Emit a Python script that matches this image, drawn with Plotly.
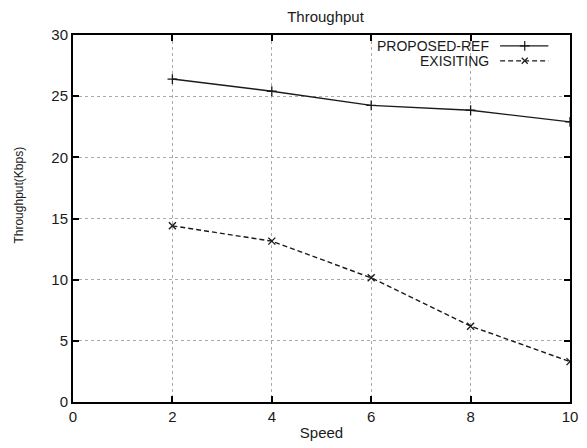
import plotly.graph_objects as go

speed = [2, 4, 6, 8, 10]
proposed_ref = [26.4, 25.4, 24.25, 23.85, 22.9]
existing = [14.4, 13.15, 10.15, 6.2, 3.3]
x_ticks = [0, 2, 4, 6, 8, 10]
y_ticks = [0, 5, 10, 15, 20, 25, 30]

FONT = "Liberation Sans, Arial, sans-serif"
W, H = 587, 448
L, R, T, B = 73, 9, 35, 43
INK = "#1a1a1a"

fig = go.Figure()
fig.add_trace(go.Scatter(
    x=speed, y=proposed_ref, mode="lines+markers", name="PROPOSED-REF",
    line=dict(color=INK, width=1.4),
    marker=dict(symbol="cross-thin", size=7, line=dict(color=INK, width=1.3)),
    showlegend=False))
fig.add_trace(go.Scatter(
    x=speed, y=existing, mode="lines+markers", name="EXISITING",
    line=dict(color=INK, width=1.4, dash="5px,3px"),
    marker=dict(symbol="x-thin", size=7, line=dict(color=INK, width=1.4)),
    showlegend=False))

# gnuplot-style legend samples on an overlay axis (0..1 paper-like)
pw = W - L - R
ph = H - T - B
def px_x(px):
    return (px - L) / pw
def px_y(py):
    return 1 - (py - T) / ph

legend_items = [("PROPOSED-REF", 46, "solid", "cross-thin", 7),
                ("EXISITING", 61, "5px,3px", "x-thin", 6)]
for name, yy, dash, sym, sz in legend_items:
    fig.add_trace(go.Scatter(
        x=[px_x(507), px_x(556)], y=[px_y(yy), px_y(yy)], mode="lines",
        line=dict(color=INK, width=1.2, dash=dash),
        xaxis="x2", yaxis="y2", showlegend=False, hoverinfo="skip"))
    fig.add_trace(go.Scatter(
        x=[px_x(532)], y=[px_y(yy)], mode="markers",
        marker=dict(symbol=sym, size=sz, line=dict(color=INK, width=1.2)),
        xaxis="x2", yaxis="y2", showlegend=False, hoverinfo="skip"))
    fig.add_annotation(x=px_x(498), y=px_y(yy), xref="x2", yref="y2",
                       text=name, showarrow=False, xanchor="right", yanchor="middle",
                       font=dict(family=FONT, size=14, color=INK))

# y-axis title placed like the reference (left margin, rotated)
fig.add_annotation(x=px_x(18), y=px_y(196), xref="paper", yref="paper",
                   text="Throughput(Kbps)", textangle=-90, showarrow=False,
                   xanchor="center", yanchor="middle",
                   font=dict(family=FONT, size=12, color=INK))

axis_common = dict(
    showline=True, linecolor="black", linewidth=2, mirror="ticks",
    ticks="inside", ticklen=6, tickwidth=2, tickcolor="black",
    showgrid=True, gridcolor="#aaaaaa", gridwidth=1, griddash="dot",
    zeroline=False, tickfont=dict(family=FONT, size=15, color=INK),
)

fig.update_layout(
    width=W, height=H,
    margin=dict(l=L, r=R, t=T, b=B),
    paper_bgcolor="white", plot_bgcolor="white",
    title=dict(text="Throughput", x=(L + pw / 2) / W, xanchor="center",
               y=1 - 17 / H, yanchor="middle",
               font=dict(family=FONT, size=15, color=INK)),
    xaxis=dict(range=[0, 10], tickvals=x_ticks,
               title=dict(text="Speed", standoff=3,
                          font=dict(family=FONT, size=15, color=INK)),
               **axis_common),
    yaxis=dict(range=[0, 30], tickvals=y_ticks, **axis_common),
    xaxis2=dict(overlaying="x", range=[0, 1], visible=False, fixedrange=True),
    yaxis2=dict(overlaying="y", range=[0, 1], visible=False, fixedrange=True),
)

fig.write_html("out.html")
